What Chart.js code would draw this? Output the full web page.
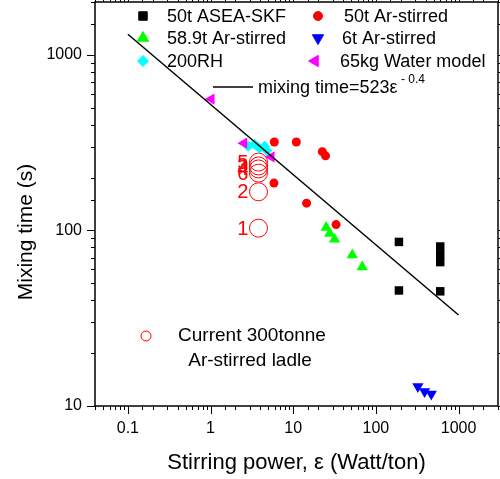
<!DOCTYPE html>
<html>
<head>
<meta charset="utf-8">
<script src="https://cdn.jsdelivr.net/npm/chart.js@4.4.0/dist/chart.umd.min.js"></script>
<style>
  html, body { margin: 0; padding: 0; background: #fff; }
  #wrap { width: 500px; height: 479px; }
</style>
</head>
<body>
<div id="wrap"><canvas id="mixChart" width="500" height="479"></canvas></div>
<script>
const FONT = 'Arial, "Liberation Sans", sans-serif';

const xTickLabels = [0.1, 1, 10, 100, 1000];
const yTickLabels = [10, 100, 1000];

// 50t ASEA-SKF
const aseaX = [190, 190, 600, 600, 600, 600];
const aseaY = [86, 45.5, 81, 73, 66, 45];
// 50t Ar-stirred
const ar50X = [5.9, 10.9, 22.5, 24.6, 5.85, 14.5, 33];
const ar50Y = [319, 319, 281, 266, 186, 143, 108];
// 58.9t Ar-stirred
const ar59X = [25, 27.6, 31.6, 51.8, 68.4];
const ar59Y = [104, 96, 89, 72.5, 62];
// 6t Ar-stirred
const ar6X = [322, 388, 468];
const ar6Y = [12.9, 12.1, 11.7];
// 200RH
const rhX = [2.85, 3.4, 3.9, 4.5, 4.8];
const rhY = [302, 310, 294, 302, 285];
// 65kg Water model
const waterX = [1.02, 2.53, 5.43];
const waterY = [560, 314, 262];
// Current 300tonne Ar-stirred ladle
const ladleX = [3.8, 3.8, 3.8, 3.8, 3.8, 3.8];
const ladleY = [103, 166, 212, 224, 233, 245];
const ladleLabels = ['1', '2', '6', '4', '3', '5'];
// mixing time = 523 e^-0.4
const fitX = [0.1, 1000];
const fitY = [1310, 33];

const pts = (xs, ys) => xs.map((x, i) => ({ x: x, y: ys[i] }));
const isLabel = (list, v) => list.find(l => Math.abs(l - v) / l < 1e-6);

function drawMarker(ctx, style, radius, rotation, x, y, color, filled) {
  ctx.save();
  ctx.fillStyle = filled ? color : 'rgba(0,0,0,0)';
  ctx.strokeStyle = color;
  ctx.lineWidth = 1;
  Chart.helpers.drawPoint(ctx, { pointStyle: style, radius: radius, rotation: rotation, borderWidth: 1 }, x, y);
  ctx.restore();
}

const legendRows = [
  { text: '50t ASEA-SKF', style: 'rect', r: 6, rot: 0, color: '#000000', mx: 143, tx: 167, y: 16 },
  { text: '50t Ar-stirred', style: 'circle', r: 4.5, rot: 0, color: '#ff0000', mx: 318, tx: 344, y: 16 },
  { text: '58.9t Ar-stirred', style: 'triangle', r: 6.5, rot: 0, color: '#00ff00', mx: 143, tx: 167, y: 38 },
  { text: '6t Ar-stirred', style: 'triangle', r: 6.5, rot: 180, color: '#0000ff', mx: 318, tx: 342, y: 38 },
  { text: '200RH', style: 'rectRot', r: 5.5, rot: 0, color: '#00ffff', mx: 143, tx: 167, y: 61 },
  { text: '65kg Water model', style: 'triangle', r: 6.5, rot: 270, color: '#ff00ff', mx: 315, tx: 340, y: 61 }
];

const overlay = {
  id: 'overlay',
  afterDraw(chart) {
    const { ctx, chartArea: a, scales: { x, y } } = chart;
    ctx.save();

    // frame and ticks
    ctx.strokeStyle = '#000';
    ctx.lineWidth = 1.5;
    ctx.strokeRect(a.left, a.top, a.right - a.left, a.bottom - a.top);
    ctx.lineWidth = 1;
    ctx.beginPath();
    x.ticks.forEach(t => {
      const px = Math.round(x.getPixelForValue(t.value)) + 0.5;
      const len = isLabel(xTickLabels, t.value) ? 8 : 4;
      ctx.moveTo(px, a.bottom); ctx.lineTo(px, a.bottom + len);
      ctx.moveTo(px, a.top); ctx.lineTo(px, a.top - len);
    });
    y.ticks.forEach(t => {
      const py = Math.round(y.getPixelForValue(t.value)) + 0.5;
      const len = isLabel(yTickLabels, t.value) ? 8 : 4;
      ctx.moveTo(a.left, py); ctx.lineTo(a.left - len, py);
      ctx.moveTo(a.right, py); ctx.lineTo(a.right + len, py);
    });
    ctx.stroke();

    // y axis title
    ctx.save();
    ctx.translate(26, 232);
    ctx.rotate(-Math.PI / 2);
    ctx.fillStyle = '#000';
    ctx.font = '21px ' + FONT;
    ctx.textAlign = 'center';
    ctx.textBaseline = 'middle';
    ctx.fillText('Mixing time (s)', 0, 0);
    ctx.restore();

    // numbers next to the open circles
    ctx.fillStyle = '#ff0000';
    ctx.font = '20px ' + FONT;
    ctx.textAlign = 'right';
    ctx.textBaseline = 'middle';
    ladleX.forEach((v, i) => {
      ctx.fillText(ladleLabels[i], x.getPixelForValue(v) - 10, y.getPixelForValue(ladleY[i]) + 1);
    });

    // legend
    ctx.textAlign = 'left';
    ctx.font = '18px ' + FONT;
    legendRows.forEach(row => {
      drawMarker(ctx, row.style, row.r, row.rot, row.mx, row.y, row.color, true);
      ctx.fillStyle = '#000';
      ctx.fillText(row.text, row.tx, row.y + 1);
    });
    ctx.strokeStyle = '#000';
    ctx.lineWidth = 1.5;
    ctx.beginPath();
    ctx.moveTo(213, 87); ctx.lineTo(253, 87);
    ctx.stroke();
    ctx.fillStyle = '#000';
    ctx.fillText('mixing time=523\u03b5', 258, 88);
    const w = ctx.measureText('mixing time=523\u03b5').width;
    ctx.font = '12px ' + FONT;
    ctx.fillText(' - 0.4', 258 + w, 80);

    // open-circle note
    drawMarker(ctx, 'circle', 5, 0, 146, 336, '#ff0000', false);
    ctx.fillStyle = '#000';
    ctx.font = '19px ' + FONT;
    ctx.textAlign = 'center';
    ctx.fillText('Current 300tonne', 252, 336);
    ctx.fillText('Ar-stirred ladle', 250, 361);

    ctx.restore();
  }
};

const ctx = document.getElementById('mixChart').getContext('2d');

new Chart(ctx, {
  type: 'scatter',
  data: {
    datasets: [
      { label: 'mixing time', data: pts(fitX, fitY), showLine: true, borderColor: '#000', borderWidth: 1.5, pointRadius: 0, fill: false },
      { label: '50t ASEA-SKF', data: pts(aseaX, aseaY), pointStyle: 'rect', pointRadius: 6, backgroundColor: '#000000', borderColor: '#000000', borderWidth: 0 },
      { label: '50t Ar-stirred', data: pts(ar50X, ar50Y), pointStyle: 'circle', pointRadius: 4.5, backgroundColor: '#ff0000', borderColor: '#ff0000', borderWidth: 0 },
      { label: '58.9t Ar-stirred', data: pts(ar59X, ar59Y), pointStyle: 'triangle', pointRadius: 6.5, backgroundColor: '#00ff00', borderColor: '#00ff00', borderWidth: 0 },
      { label: '6t Ar-stirred', data: pts(ar6X, ar6Y), pointStyle: 'triangle', pointRotation: 180, pointRadius: 6.5, backgroundColor: '#0000ff', borderColor: '#0000ff', borderWidth: 0 },
      { label: '65kg Water model', data: pts(waterX, waterY), pointStyle: 'triangle', pointRotation: 270, pointRadius: 6.5, backgroundColor: '#ff00ff', borderColor: '#ff00ff', borderWidth: 0 },
      { label: '200RH', data: pts(rhX, rhY), pointStyle: 'rectRot', pointRadius: 5.5, backgroundColor: '#00ffff', borderColor: '#00ffff', borderWidth: 0 },
      { label: 'Current 300tonne Ar-stirred ladle', data: pts(ladleX, ladleY), pointStyle: 'circle', pointRadius: 9, backgroundColor: 'rgba(0,0,0,0)', borderColor: '#ff0000', borderWidth: 1 }
    ]
  },
  options: {
    responsive: false,
    animation: false,
    maintainAspectRatio: false,
    layout: { autoPadding: false, padding: { top: 2, right: 2, left: 0, bottom: 0 } },
    plugins: { legend: { display: false }, tooltip: { enabled: false } },
    scales: {
      x: {
        type: 'logarithmic',
        min: 0.04,
        max: 3000,
        afterFit: s => { s.height = 73; s.paddingLeft = 0; s.paddingRight = 0; },
        grid: { display: false, drawTicks: false },
        border: { display: false },
        ticks: {
          autoSkip: false,
          maxRotation: 0,
          padding: 13,
          color: '#000',
          font: { family: FONT, size: 16 },
          callback: v => { const l = isLabel(xTickLabels, v); return l ? String(l) : ''; }
        },
        title: { display: true, text: 'Stirring power, \u03b5 (Watt/ton)', color: '#000', font: { family: FONT, size: 22 }, padding: { top: 0, bottom: 3 } }
      },
      y: {
        type: 'logarithmic',
        min: 10,
        max: 2000,
        afterFit: s => { s.width = 95; s.paddingTop = 0; s.paddingBottom = 0; },
        grid: { display: false, drawTicks: false },
        border: { display: false },
        ticks: {
          autoSkip: false,
          padding: 13,
          color: '#000',
          font: { family: FONT, size: 16 },
          callback: v => { const l = isLabel(yTickLabels, v); return l ? String(l) : ''; }
        }
      }
    }
  },
  plugins: [overlay]
});
</script>
</body>
</html>
